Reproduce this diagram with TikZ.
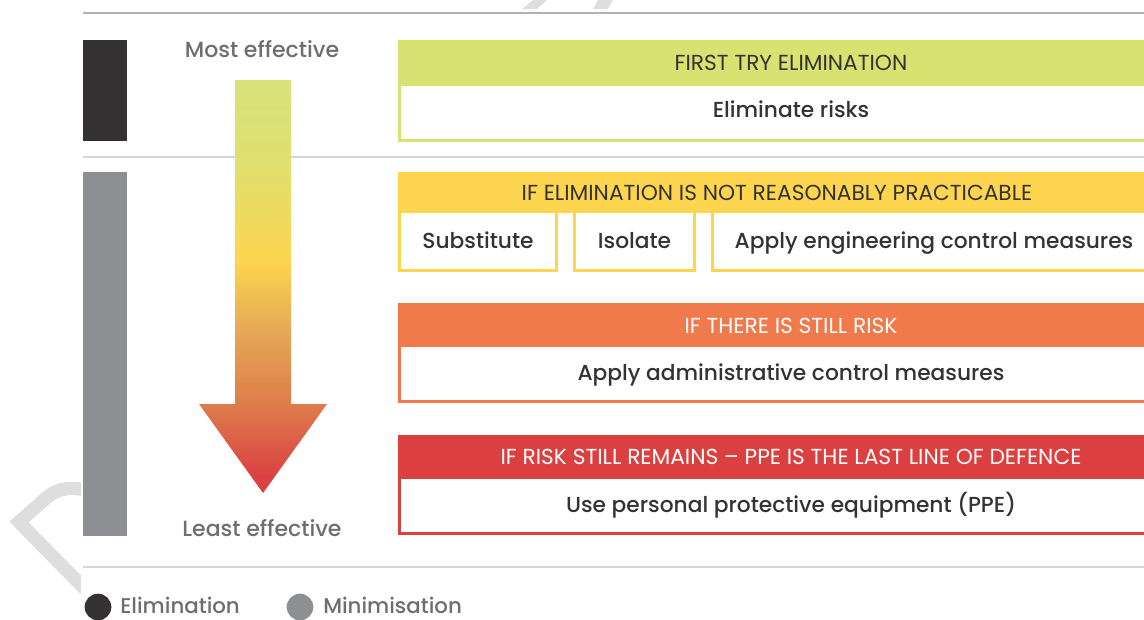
\documentclass[tikz,border=0pt]{standalone}
\usepackage{fontspec}
\setmainfont{Poppins}
\newfontfamily\medfont{Poppins Medium}
\usetikzlibrary{positioning}

\definecolor{elimgreen}{HTML}{D8E271}
\definecolor{subyellow}{HTML}{FDD54F}
\definecolor{adminorange}{HTML}{F07A4C}
\definecolor{ppered}{HTML}{DB3F3F}
\definecolor{darkbar}{HTML}{333132}
\definecolor{greybar}{HTML}{8E8F92}
\definecolor{labelgrey}{HTML}{6D6E71}
\definecolor{textdark}{HTML}{333333}
\definecolor{rulegrey}{HTML}{D6D6D6}
\definecolor{topgrey}{HTML}{B3B3B3}
\definecolor{wmark}{HTML}{DEDEDE}

% colours down the big arrow
\definecolor{arrowtop}{HTML}{D7E27A}
\definecolor{arrowgreen}{HTML}{DEE06E}
\definecolor{arrowyellow}{HTML}{FDD54F}
\definecolor{arrowamber}{HTML}{E4A856}
\definecolor{arroworange}{HTML}{DE7E4C}
\definecolor{arrowred}{HTML}{DB4141}
\pgfdeclareverticalshading{riskfade}{100bp}{color(0bp)=(arrowred); color(27bp)=(arrowred);
  color(36bp)=(arroworange); color(44.5bp)=(arrowamber); color(53bp)=(arrowyellow);
  color(65bp)=(arrowgreen); color(75bp)=(arrowtop); color(100bp)=(arrowtop)}

\begin{document}
\begin{tikzpicture}[x=0.75pt,y=-0.75pt,
    heading/.style={font=\fontsize{16.3}{19}\selectfont,text=textdark,inner sep=0pt,anchor=base},
    action/.style={font=\medfont\fontsize{16.3}{19}\selectfont,text=textdark,inner sep=0pt,anchor=base},
    effect/.style={font=\medfont\fontsize{16.5}{19}\selectfont,text=labelgrey,inner sep=0pt,anchor=base},
    key/.style={effect,anchor=base west,font=\medfont\fontsize{16}{19}\selectfont},
    frame/.style={line width=2.25pt},
    dot/.style={circle,inner sep=0pt,minimum size=20pt},
  ]
  \useasboundingbox (0,0) rectangle (1144,619);
  \clip (0,0) rectangle (1144,619);

  % faint watermark strokes peeking out at the edges
  \begin{scope}
    \clip (0,0) rectangle (81,619) (0,0) rectangle (1144,11);
    \draw[wmark,line width=10pt] (86,490) .. controls (66,486) and (55,490) .. (45,499)
      -- (19,522) -- (86,590);
    \fill[wmark] (533,0) -- (547,0) -- (537,9) -- (522,9) -- cycle;
    \fill[wmark] (598,0) -- (613,0) -- (608,9) -- (593,9) -- cycle;
  \end{scope}

  % rules
  \draw[topgrey,line width=1.5pt] (83,13) -- (1144,13);
  \draw[rulegrey,line width=1.2pt] (83,157) -- (1144,157);
  \draw[rulegrey,line width=1.2pt] (83,567) -- (1144,567);

  % side bars
  \fill[darkbar] (83,40) rectangle (127,141);
  \fill[greybar] (83,172) rectangle (127,536);

  % effectiveness arrow
  \shade[shading=riskfade] (235,80) -- (291,80) -- (291,404) -- (327,404)
    -- (263,493) -- (199,404) -- (235,404) -- cycle;
  \node[effect] (most) at (262,57) {Most effective};
  \node[effect] (least) at (262,536) {Least effective};

  % elimination
  \fill[elimgreen] (398,40) rectangle (1190,86);
  \draw[elimgreen,frame] (399.5,84) rectangle (1190,140.5);
  \node[heading] (t1) at (791,70) {FIRST TRY ELIMINATION};
  \node[action] (b1) at (791,117) {Eliminate risks};

  % substitution, isolation, engineering
  \fill[subyellow] (398,172) rectangle (1190,213);
  \draw[subyellow,frame] (399.5,211) rectangle (556.5,270.5);
  \draw[subyellow,frame] (574.5,211) rectangle (694.5,270.5);
  \draw[subyellow,frame] (712.5,211) rectangle (1190,270.5);
  \node[heading] (t2) at (777,200) {IF ELIMINATION IS NOT REASONABLY PRACTICABLE};
  \node[action] (sub) at (478,248) {Substitute};
  \node[action] (iso) at (634.5,248) {Isolate};
  \node[action] (eng) at (934,248) {Apply engineering control measures};

  % administrative controls
  \fill[adminorange] (398,303) rectangle (1190,347);
  \draw[adminorange,frame] (399.5,345) rectangle (1190,401.5);
  \node[heading,text=white] (t3) at (791,333) {IF THERE IS STILL RISK};
  \node[action] (adm) at (791,380) {Apply administrative control measures};

  % personal protective equipment
  \fill[ppered] (398,435) rectangle (1190,479);
  \draw[ppered,frame] (399.5,477) rectangle (1190,533.5);
  \node[heading,text=white] (t4) at (791,464) {IF RISK STILL REMAINS -- PPE IS THE LAST LINE OF DEFENCE};
  \node[action] (ppe) at (791,512) {Use personal protective equipment (PPE)};

  % legend
  \node[dot,fill=darkbar] (elimdot) at (98,607) {};
  \node[key] (elimkey) at (120,613) {Elimination};
  \node[dot,fill=greybar] (minidot) at (300,607) {};
  \node[key] (minikey) at (323,613) {Minimisation};
\end{tikzpicture}
\end{document}
